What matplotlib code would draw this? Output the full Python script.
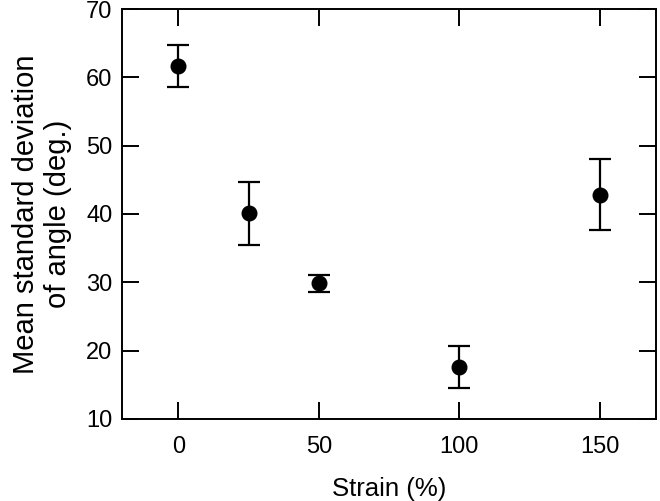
import numpy as np
import matplotlib.pyplot as plt

plt.rcParams['font.family'] = ['Liberation Sans', 'DejaVu Sans']

# data
strain = [0, 25, 50, 100, 150]
mean_sd = [61.6, 40.1, 29.9, 17.6, 42.8]
err_hi = [64.7, 44.7, 31.1, 20.7, 48.1]
err_lo = [58.6, 35.4, 28.6, 14.5, 37.6]

xticks = [0, 50, 100, 150]
yticks = [10, 20, 30, 40, 50, 60, 70]

mean_sd = np.array(mean_sd)
yerr = [mean_sd - np.array(err_lo), np.array(err_hi) - mean_sd]

fig = plt.figure(figsize=(6.6, 5.01), dpi=100)
ax = fig.add_axes([0.185, 0.164, 0.809, 0.818])

ax.errorbar(strain, mean_sd, yerr=yerr, fmt='o', color='black',
            markersize=10.5, elinewidth=1.6, capsize=8, capthick=1.6)

ax.set_xlim(-20, 170)
ax.set_ylim(10, 70)
ax.set_xticks(xticks)
ax.set_yticks(yticks)
ax.tick_params(direction='in', length=12, width=1.4, labelsize=17,
               top=True, right=True)
ax.tick_params(axis='x', pad=12)
ax.tick_params(axis='y', pad=7)
for s in ax.spines.values():
    s.set_linewidth(1.4)

ax.set_xlabel('Strain (%)', fontsize=18.5, labelpad=14)
ax.set_ylabel('Mean standard deviation\nof angle (deg.)', fontsize=21, labelpad=10)

fig.savefig('out.png', dpi=100)
